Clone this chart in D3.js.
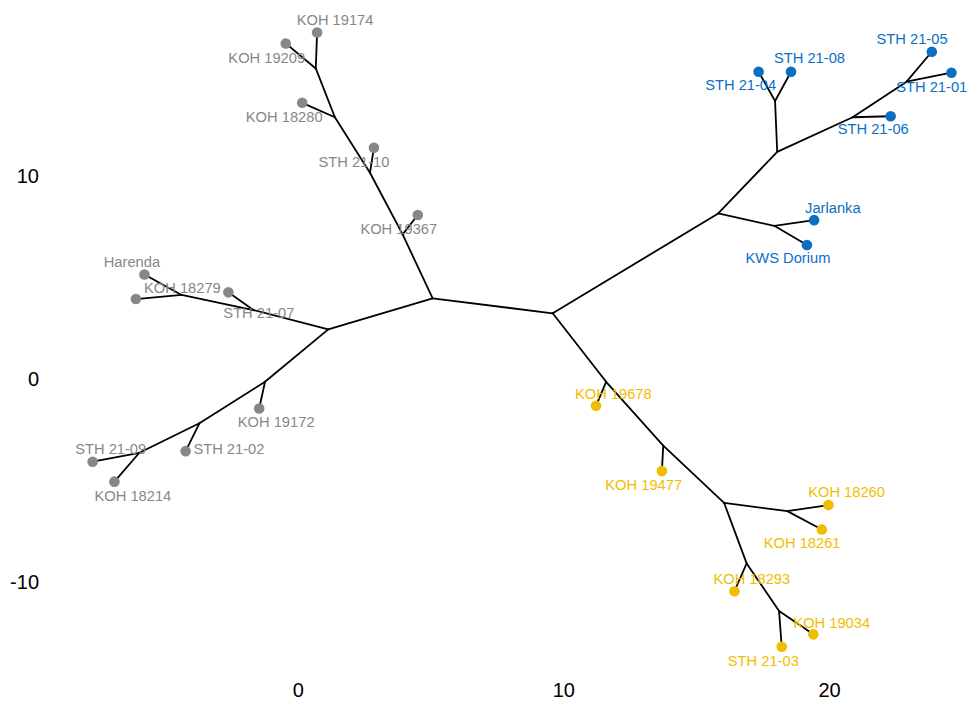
<!DOCTYPE html>
<html>
<head>
<meta charset="utf-8">
<script src="https://cdn.jsdelivr.net/npm/d3@7"></script>
<style>
  html, body { margin: 0; padding: 0; background: #ffffff; }
  svg { display: block; }
  text { font-family: "Liberation Sans", Arial, sans-serif; }
</style>
</head>
<body>
<svg id="chart" width="968" height="707"></svg>
<script>
// Unrooted tree layout: node ids, coordinates, parent links and group
const nodeIds = [
  "n1", "n2", "n3", "n4",
  "n5", "Jarlanka", "KWS Dorium", "n6", "n7", "STH 21-04", "STH 21-08",
  "n8", "STH 21-06", "n9", "STH 21-05", "STH 21-01",
  "KOH 19678", "n10", "KOH 19477", "n11", "n12", "KOH 18260", "KOH 18261",
  "n13", "KOH 18293", "n14", "KOH 19034", "STH 21-03",
  "n15", "KOH 19367", "n16", "STH 21-10", "n17", "KOH 18280", "n18", "KOH 19209", "KOH 19174",
  "n19", "n20", "STH 21-07", "n21", "Harenda", "KOH 18279",
  "n22", "KOH 19172", "n23", "STH 21-02", "n24", "STH 21-09", "KOH 18214"
];
const nodeX = [
  9.60, 5.08, 15.83, 11.61,
  17.94, 19.44, 19.17, 18.05, 17.97, 17.35, 18.57,
  20.89, 22.32, 22.92, 23.87, 24.61,
  11.23, 13.76, 13.71, 16.05, 18.43, 19.98, 19.73,
  16.90, 16.44, 18.12, 19.41, 18.22,
  3.95, 4.52, 2.72, 2.87, 1.40, 0.17, 0.68, -0.45, 0.73,
  1.15, -1.67, -2.61, -4.37, -5.77, -6.09,
  -1.23, -1.45, -3.70, -4.22, -5.96, -7.72, -6.90
];
const nodeY = [
  3.20, 3.93, 8.11, -0.17,
  7.50, 7.78, 6.56, 11.14, 13.64, 15.08, 15.08,
  12.84, 12.89, 14.59, 16.06, 15.03,
  -1.35, -3.31, -4.56, -6.12, -6.53, -6.23, -7.43,
  -9.10, -10.47, -11.44, -12.59, -13.20,
  7.08, 8.03, 10.11, 11.34, 12.84, 13.55, 15.24, 16.47, 17.01,
  2.41, 3.36, 4.23, 4.10, 5.11, 3.90,
  -0.17, -1.48, -2.21, -3.58, -3.66, -4.10, -5.08
];
const parentIds = [
  null, "n1", "n1", "n1",
  "n3", "n5", "n5", "n3", "n6", "n7", "n7",
  "n6", "n8", "n8", "n9", "n9",
  "n4", "n4", "n10", "n10", "n11", "n12", "n12",
  "n11", "n13", "n13", "n14", "n14",
  "n2", "n15", "n15", "n16", "n16", "n17", "n17", "n18", "n18",
  "n2", "n19", "n20", "n20", "n21", "n21",
  "n19", "n22", "n22", "n23", "n23", "n24", "n24"
];
const groupOf = [
  null, null, null, null,
  null, "blue", "blue", null, null, "blue", "blue",
  null, "blue", null, "blue", "blue",
  "yellow", null, "yellow", null, null, "yellow", "yellow",
  null, "yellow", null, "yellow", "yellow",
  null, "grey", null, "grey", null, "grey", null, "grey", "grey",
  null, null, "grey", null, "grey", "grey",
  null, "grey", null, "grey", null, "grey", "grey"
];

const xTicks = [0, 10, 20];
const yTicks = [-10, 0, 10];

// Presentation
const groupColor = { grey: "#878787", blue: "#0a6fc3", yellow: "#efbe00" };
// Label placement relative to each tip point, in pixels
const labelShift = {
  "KOH 19174": [18, -13], "KOH 19209": [-19, 14], "KOH 18280": [-18, 14],
  "STH 21-10": [-20, 14.5], "KOH 19367": [-19, 13.7], "Harenda": [-12.5, -12.5],
  "KOH 18279": [46.5, -10.7], "STH 21-07": [30.5, 21], "KOH 19172": [17, 13.4],
  "STH 21-02": [43.3, -2], "STH 21-09": [18.1, -12.7], "KOH 18214": [18.5, 14],
  "STH 21-05": [-19.7, -13.4], "STH 21-08": [18.5, -13.4], "STH 21-04": [-17.9, 13.3],
  "STH 21-01": [-19.7, 14.6], "STH 21-06": [-17.4, 13], "Jarlanka": [18.7, -12.3],
  "KWS Dorium": [-19, 13.3], "KOH 19678": [17.3, -12.4], "KOH 19477": [-18.2, 14],
  "KOH 18260": [18.1, -12.7], "KOH 18261": [-19.7, 13.4], "KOH 18293": [17.4, -12.7],
  "KOH 19034": [18.4, -12], "STH 21-03": [-18.4, 14]
};

const nodes = nodeIds.map((id, i) => ({
  id, x: nodeX[i], y: nodeY[i], parent: parentIds[i], group: groupOf[i]
}));
const root = d3.stratify().id(d => d.id).parentId(d => d.parent)(nodes);

const svg = d3.select("#chart");
const x = d3.scaleLinear().domain([0, 20]).range([297.7, 829]);
const y = d3.scaleLinear().domain([-10, 10]).range([581.7, 175]);

// Axes: tick labels only, no lines; plain hyphen for negatives
const plain = d => String(d);
const xAxis = d3.axisBottom(x).tickValues(xTicks).tickFormat(plain).tickSize(0).tickPadding(0);
svg.append("g")
  .attr("transform", "translate(0,683)")
  .call(xAxis)
  .call(g => g.select(".domain").remove())
  .call(g => g.selectAll("text")
    .attr("font-family", "'Liberation Sans', Arial, sans-serif")
    .attr("font-size", 20).attr("fill", "#000").attr("dy", "0.71em"));

const yAxis = d3.axisLeft(y).tickValues(yTicks).tickFormat(plain).tickSize(0).tickPadding(0);
svg.append("g")
  .attr("transform", "translate(39,0)")
  .call(yAxis)
  .call(g => g.select(".domain").remove())
  .call(g => g.selectAll("text")
    .attr("font-family", "'Liberation Sans', Arial, sans-serif")
    .attr("font-size", 20).attr("fill", "#000").attr("dy", "0.35em"));

// Branches
svg.append("g")
  .selectAll("line")
  .data(root.links())
  .join("line")
  .attr("x1", d => x(d.source.data.x))
  .attr("y1", d => y(d.source.data.y))
  .attr("x2", d => x(d.target.data.x))
  .attr("y2", d => y(d.target.data.y))
  .attr("stroke", "#000")
  .attr("stroke-width", 1.8)
  .attr("stroke-linecap", "round");

const tips = root.leaves().map(d => d.data);

// Tip points
svg.append("g")
  .selectAll("circle")
  .data(tips)
  .join("circle")
  .attr("cx", d => x(d.x))
  .attr("cy", d => y(d.y))
  .attr("r", 5.3)
  .attr("fill", d => groupColor[d.group]);

// Tip labels
svg.append("g")
  .selectAll("text")
  .data(tips)
  .join("text")
  .attr("x", d => x(d.x) + labelShift[d.id][0])
  .attr("y", d => y(d.y) + labelShift[d.id][1])
  .attr("text-anchor", "middle")
  .attr("dy", "0.35em")
  .attr("font-size", 14.7)
  .attr("fill", d => groupColor[d.group])
  .text(d => d.id);
</script>
</body>
</html>
